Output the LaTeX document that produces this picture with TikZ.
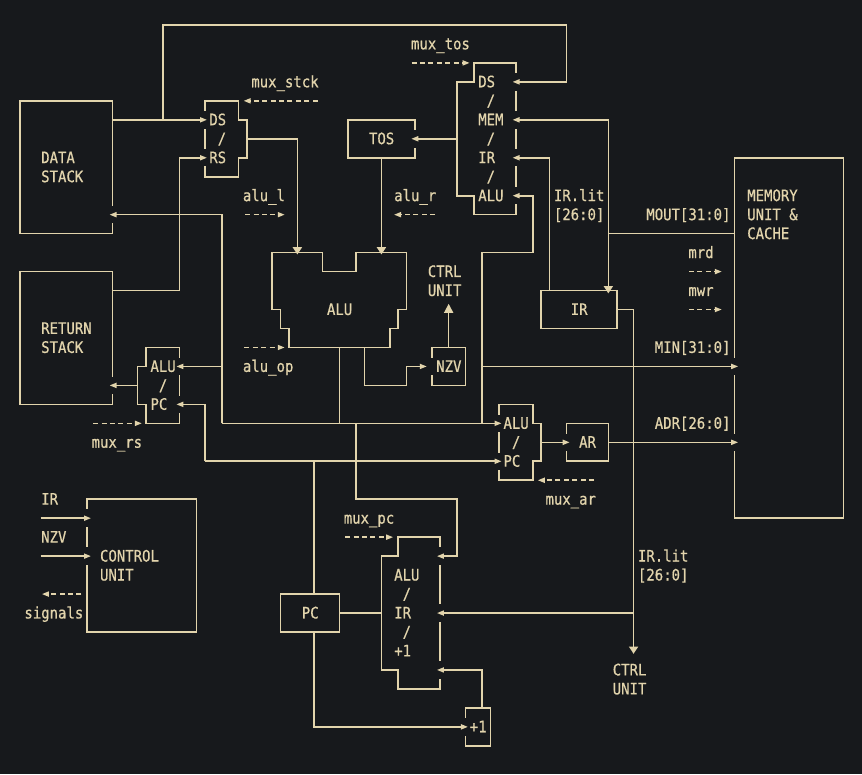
\documentclass[tikz,border=0pt]{standalone}
\usepackage{fontspec}
\setmonofont[FakeStretch=0.884,FakeBold=0.6]{DejaVu Sans Mono}
\usetikzlibrary{arrows.meta}
\definecolor{bgcol}{RGB}{23,25,28}
\definecolor{ink}{RGB}{226,212,172}
\tikzset{
  wire/.style={draw=ink, line width=1.6pt},
  sig/.style={wire, dash pattern=on 5pt off 3.4pt},
  tip/.style={-{Triangle[length=7pt,width=5pt]}},
  bigtip/.style={-{Triangle[length=7.3pt,width=9pt]}},
  uptip/.style={-{Triangle[length=9pt,width=9pt]}},
  lbl/.style={anchor=base west, inner sep=0pt, text=ink,
    font=\ttfamily\fontsize{15.8}{19}\selectfont},
}
\begin{document}
\begin{tikzpicture}[x=8.405pt, y=-18.97pt]
  % page
  \fill[bgcol] (-2.3795,-0.3163) rectangle (100.178,40.485);
  \useasboundingbox (-2.3795,-0.3163) rectangle (100.178,40.485);

  % plain blocks
  \draw[wire] (0,5) rectangle (11,12);     % data stack
  \draw[wire] (0,14) rectangle (11,21);    % return stack
  \draw[wire] (39,6) rectangle (47,8);     % tos
  \draw[wire] (62,15) rectangle (71,17);   % ir
  \draw[wire] (49,18) rectangle (53,20);   % nzv
  \draw[wire] (65,22) rectangle (70,24);   % ar
  \draw[wire] (85,8) rectangle (98,27);    % memory
  \draw[wire] (8,26) rectangle (21,33);    % control unit
  \draw[wire] (31,31) rectangle (38,33);   % pc
  \draw[wire] (53,37) rectangle (56,39);   % +1

  % multiplexers
  \draw[wire] (22,5) -- (26,5) -- (26,6) -- (27,6) -- (27,8) -- (26,8) -- (26,9) -- (22,9) -- cycle;
  \draw[wire] (54,3) -- (59,3) -- (59,11) -- (54,11) -- (54,10) -- (52,10) -- (52,4) -- (54,4) -- cycle;
  \draw[wire] (15,18) -- (19,18) -- (19,22) -- (15,22) -- (15,21) -- (14,21) -- (14,19) -- (15,19) -- cycle;
  \draw[wire] (57,21) -- (61,21) -- (61,22) -- (62,22) -- (62,24) -- (61,24) -- (61,25) -- (57,25) -- cycle;
  \draw[wire] (45,28) -- (50,28) -- (50,36) -- (45,36) -- (45,35) -- (43,35) -- (43,29) -- (45,29) -- cycle;

  % alu
  \draw[wire] (30,13) -- (36,13) -- (36,14) -- (40,14) -- (40,13) -- (46,13) -- (46,16) -- (45,16)
    -- (45,17) -- (44,17) -- (44,18) -- (32,18) -- (32,17) -- (31,17) -- (31,16) -- (30,16) -- cycle;

  % openings where arrows go in
  \foreach \c/\r in {11/11, 11/20, 22/6, 22/8, 59/4, 59/6, 59/8, 59/10, 47/7, 19/19, 19/21,
      57/22, 57/24, 65/23, 49/19, 85/19, 85/23, 8/27, 8/29, 50/29, 50/32, 50/35, 53/38}
    \fill[bgcol] (\c-0.4,\r-0.46) rectangle (\c+0.4,\r+0.46);

  % stacks
  \draw[wire, tip] (11,6) -- (22.25,6);
  \draw[wire, tip] (17,6) -- (17,1) -- (65,1) -- (65,4) -- (58.6,4);
  \draw[wire, tip] (11,15) -- (19,15) -- (19,8) -- (22.25,8);
  \draw[wire, bigtip] (27,7) -- (33,7) -- (33,13.1);
  \draw[wire, tip] (24,22) -- (24,11) -- (10.65,11);
  \draw[wire, tip] (24,19) -- (18.6,19);
  \draw[wire, tip] (14,20) -- (10.65,20);
  \draw[wire, tip] (22,24) -- (22,21) -- (18.6,21);

  % tos and memory out
  \draw[wire, tip] (52,7) -- (46.55,7);
  \draw[wire, bigtip] (43,8) -- (43,13.1);
  \draw[wire] (85,12) -- (70,12);
  \draw[wire, tip] (70,12) -- (70,6) -- (58.6,6);
  \draw[wire, bigtip] (70,12) -- (70,15.15);

  % ir
  \draw[wire, tip] (63,15) -- (63,8) -- (58.6,8);
  \draw[wire, bigtip] (71,16) -- (73,16) -- (73,34.15);
  \draw[wire, tip] (73,32) -- (49.6,32);

  % alu result
  \draw[wire, tip] (55,22) -- (55,13) -- (61,13) -- (61,10) -- (58.6,10);
  \draw[wire, tip] (55,19) -- (85.45,19);
  \draw[wire, tip] (24,22) -- (57.3,22);
  \draw[wire] (38,18) -- (38,22);
  \draw[wire, tip] (41,18) -- (41,20) -- (46,20) -- (46,19) -- (48.4,19);
  \draw[wire, uptip] (51,18) -- (51,15.7);

  % address
  \draw[wire, tip] (22,24) -- (57.3,24);
  \draw[wire] (35,24) -- (35,31);
  \draw[wire, tip] (62,23) -- (65.4,23);
  \draw[wire, tip] (70,23) -- (85.45,23);

  % pc loop
  \draw[wire, tip] (40,22) -- (40,26) -- (52,26) -- (52,29) -- (49.6,29);
  \draw[wire] (38,32) -- (43,32);
  \draw[wire, tip] (35,33) -- (35,38) -- (53.3,38);
  \draw[wire, tip] (55,37) -- (55,35) -- (49.6,35);

  % control unit inputs
  \draw[wire, tip] (2.45,27) -- (8.45,27);
  \draw[wire, tip] (2.45,29) -- (8.45,29);

  % control signals
  \foreach \a/\b/\r in {46.6/53.5/3, 35.4/26.6/5, 26.8/31.5/11, 49.4/44.5/11, 79.6/83.5/14,
      79.6/83.5/16, 26.7/31.5/18, 8.7/14.5/22, 68.3/61.6/25, 38.7/44.4/28, 7.3/2.6/31}
    \draw[sig, tip] (\a,\r) -- (\b,\r);

  % labels
  \foreach \c/\r/\t [count=\i] in {47/2/mux\_tos, 28/4/mux\_stck,
      23/6/DS, 24/7/\slash, 23/8/RS, 3/8/DATA, 3/9/STACK,
      55/4/DS, 56/5/\slash, 55/6/MEM, 56/7/\slash, 55/8/IR, 56/9/\slash, 55/10/ALU,
      42/7/TOS, 27/10/alu\_l, 45/10/alu\_r, 64/10/IR.lit, 64/11/{[26:0]},
      75/11/{MOUT[31:0]}, 87/10/MEMORY, 87/11/UNIT \&, 87/12/CACHE,
      80/13/mrd, 80/15/mwr, 49/14/CTRL, 49/15/UNIT, 37/16/ALU, 66/16/IR,
      3/17/RETURN, 3/18/STACK, 76/18/{MIN[31:0]},
      16/19/ALU, 17/20/\slash, 16/21/PC, 50/19/NZV, 27/19/alu\_op,
      76/22/{ADR[26:0]}, 9/23/mux\_rs, 58/22/ALU, 59/23/\slash, 58/24/PC,
      67/23/AR, 63/26/mux\_ar, 3/26/IR, 3/28/NZV, 10/29/CONTROL, 10/30/UNIT,
      1/32/signals, 39/27/mux\_pc,
      45/30/ALU, 46/31/\slash, 45/32/IR, 46/33/\slash, 45/34/+1, 34/32/PC,
      74/29/IR.lit, 74/30/{[26:0]}, 71/35/CTRL, 71/36/UNIT, 54/38/+1}
    \node[lbl] (txt\i) at (\c-0.5,\r+0.285) {\t};
\end{tikzpicture}
\end{document}
